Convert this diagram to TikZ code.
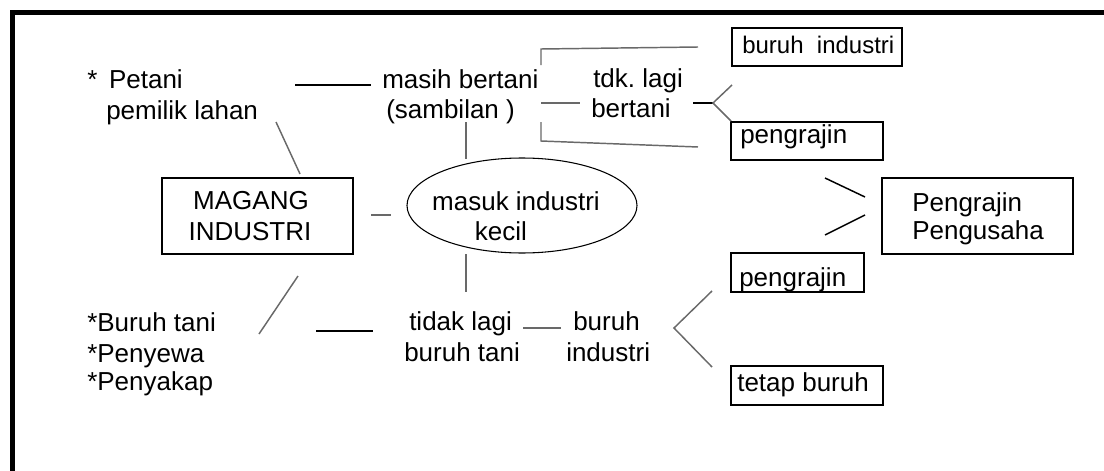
\documentclass[tikz,border=0pt]{standalone}
\usepackage{fontspec}
\setmainfont{Liberation Sans}
\usetikzlibrary{fit,shapes.geometric}
\newcommand\lbl{\fontsize{19.5pt}{23pt}\selectfont}
\newcommand\lblsm{\fontsize{18pt}{21pt}\selectfont}
\definecolor{connG}{RGB}{105,105,105}
\tikzset{
  txt/.style={anchor=base west, inner sep=0pt, font=\lbl},
  txtc/.style={anchor=base, inner sep=0pt, font=\lbl},
  thinbox/.style={draw=black, line width=1pt, inner sep=0pt, rectangle},
  thickbox/.style={draw=black, line width=1.7pt, inner sep=0pt, rectangle},
  gline/.style={draw=connG, line width=1.1pt},
  bline/.style={draw=black, line width=1.1pt},
  frameline/.style={draw=black, line width=3.8pt, line join=miter}
}
\begin{document}
\begin{tikzpicture}[x=0.75pt, y=-0.75pt]
\useasboundingbox (0,0) rectangle (1104,471);
% frame
\draw[frameline] (1104,12.5) -- (12.3,12.5) -- (12.3,471);

% boxes
\node[thinbox, fit={(732,28) (902,66)}] (bBI) {};
\node[thinbox, fit={(731,122) (883,160)}] (bPK1) {};
\node[thickbox, fit={(882,178) (1073,254)}] (bPP) {};
\node[thickbox, fit={(162,178) (353,254)}] (bMI) {};
\node[thinbox, fit={(731,253) (864,292)}] (bPK2) {};
\node[thinbox, fit={(731,366) (883,405)}] (bTB) {};
\node[draw=black, line width=0.8pt, ellipse, inner sep=0pt, minimum width=172.5pt, minimum height=71.25pt] (ell) at (522,205.5) {};

% texts
\node[txt] (pet1) at (87,88) {*\hspace{0.45em}Petani};
\node[txt] (pet2) at (106,119) {pemilik lahan};
\node[txt] (mb1) at (382,88) {masih bertani};
\node[txt] (mb2) at (386,118) {(sambilan )};
\node[txt] (tdk1) at (593,87.5) {tdk.\ lagi};
\node[txt] (tdk2) at (591,117.5) {bertani};
\node[anchor=base west, inner sep=0pt, font=\lblsm] (tBI) at (742,53) {buruh\ \ industri};
\node[txt] (tPK1) at (740,143) {pengrajin};
\node[txt] (tPP1) at (912,211) {Pengrajin};
\node[txt] (tPP2) at (912,239) {Pengusaha};
\node[txtc] (tMI1) at (251,209) {MAGANG};
\node[txtc] (tMI2) at (250,240) {INDUSTRI};
\node[txtc] (tE1) at (516,210.7) {masuk industri};
\node[txtc] (tE2) at (501,240.7) {kecil};
\node[txt] (bt1) at (87,331) {*Buruh tani};
\node[txt] (bt2) at (87,362) {*Penyewa};
\node[txt] (bt3) at (87,390) {*Penyakap};
\node[txt] (tl1) at (409,330) {tidak lagi};
\node[txt] (tl2) at (404,361.7) {buruh tani};
\node[txt] (bu1) at (573,330) {buruh};
\node[txt] (bu2) at (566,361.7) {industri};
\node[txt] (tPK2) at (739,286) {pengrajin};
\node[txt] (tTB) at (737,391.7) {tetap buruh};

% connector end points
\coordinate (c1a) at (295,85);   \coordinate (c1b) at (371,85);
\coordinate (c2a) at (276,122);  \coordinate (c2b) at (300,174);
\coordinate (c3a) at (371,215);  \coordinate (c3b) at (391,215);
\coordinate (c4a) at (466,122);  \coordinate (c4b) at (466,159);
\coordinate (c5a) at (466,254);  \coordinate (c5b) at (466,292);
\coordinate (c6a) at (298,276);  \coordinate (c6b) at (259,334);
\coordinate (c7a) at (316,331);  \coordinate (c7b) at (373,331);
\coordinate (c8a) at (523,328);  \coordinate (c8b) at (561,328);
\coordinate (f1a) at (712,291);  \coordinate (f1m) at (674,328); \coordinate (f1b) at (712,367);
\coordinate (k1a) at (541,65);   \coordinate (k1m) at (541,49);  \coordinate (k1b) at (698,47);
\coordinate (k2a) at (541,103);  \coordinate (k2b) at (580,103);
\coordinate (k3a) at (541,122);  \coordinate (k3m) at (541,141); \coordinate (k3b) at (698,147);
\coordinate (s1a) at (693,103);  \coordinate (s1b) at (713,103);
\coordinate (f2a) at (732,85);   \coordinate (f2b) at (731,121);
\coordinate (p1a) at (825,178);  \coordinate (p1b) at (865,197);
\coordinate (p2a) at (825,235);  \coordinate (p2b) at (865,215);

% connectors
\draw[bline] (c1a) -- (c1b);
\draw[gline] (c2a) -- (c2b);
\draw[gline] (c3a) -- (c3b);
\draw[gline] (c4a) -- (c4b);
\draw[gline] (c5a) -- (c5b);
\draw[gline] (c6a) -- (c6b);
\draw[bline] (c7a) -- (c7b);
\draw[gline] (c8a) -- (c8b);
\draw[gline] (f1a) -- (f1m) -- (f1b);
\draw[gline] (k1a) -- (k1m) -- (k1b);
\draw[gline] (k2a) -- (k2b);
\draw[gline] (k3a) -- (k3m) -- (k3b);
\draw[draw=black, line width=1.8pt] (s1a) -- (s1b);
\draw[gline] (f2a) -- (s1b) -- (f2b);
\draw[bline] (p1a) -- (p1b);
\draw[bline] (p2a) -- (p2b);
\end{tikzpicture}
\end{document}
